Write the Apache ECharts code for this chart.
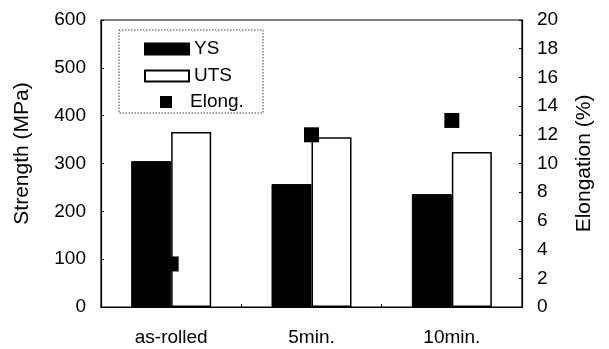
<!DOCTYPE html>
<html>
<head>
<meta charset="utf-8">
<script src="https://cdn.jsdelivr.net/npm/echarts@6/dist/echarts.min.js"></script>
<style>html,body{margin:0;padding:0;background:#fff;}#c{width:609px;height:349px;}</style>
</head>
<body>
<div id="c"></div>
<script>
var categories = ['as-rolled', '5min.', '10min.'];
var ysValues = [305, 257, 236];
var utsValues = [366, 355, 324];
var elongValues = [3, 12, 13];
var strengthTicks = [0, 100, 200, 300, 400, 500, 600];
var elongTicks = [0, 2, 4, 6, 8, 10, 12, 14, 16, 18, 20];

var FONT = "'Liberation Sans', Arial, Helvetica, sans-serif";
var chart = echarts.init(document.getElementById('c'), null, {renderer: 'canvas'});
var axisCommon = {
  axisLine: {show: true, lineStyle: {color: '#000', width: 1.2}},
  axisTick: {show: true, inside: true, length: 3, lineStyle: {color: '#000'}},
  splitLine: {show: false},
  nameLocation: 'middle',
  nameTextStyle: {color: '#000', fontSize: 21, fontFamily: FONT},
  axisLabel: {color: '#000', fontSize: 19, fontFamily: FONT, margin: 15}
};
chart.setOption({
  animation: false,
  backgroundColor: '#fff',
  grid: {left: 101, right: 87, top: 20, bottom: 42, show: true, borderColor: '#000', borderWidth: 1.2, backgroundColor: 'transparent'},
  graphic: [{
    type: 'rect', shape: {x: 119, y: 30, width: 144, height: 83},
    style: {fill: 'none', stroke: '#444', lineWidth: 1, lineDash: [1.5, 1.5]}, z: 50
  }],
  legend: [{
    data: [{name: 'YS', icon: 'rect'}, {name: 'UTS', icon: 'rect'}],
    orient: 'vertical', left: 139, top: 34, itemWidth: 44, itemHeight: 11, itemGap: 7,
    textStyle: {color: '#000', fontSize: 19, fontFamily: FONT, lineHeight: 20},
    selectedMode: false
  }, {
    data: [{name: 'Elong.', icon: 'rect'}],
    orient: 'vertical', left: 155, top: 87, itemWidth: 12, itemHeight: 12,
    itemStyle: {opacity: 1},
    textStyle: {color: '#000', fontSize: 19, fontFamily: FONT, lineHeight: 20, padding: [0, 0, 0, 13]},
    selectedMode: false
  }],
  xAxis: {
    type: 'category', data: categories, boundaryGap: true,
    axisLine: {show: true, lineStyle: {color: '#000', width: 1.2}},
    axisTick: {show: true, inside: true, length: 3, lineStyle: {color: '#000'}},
    axisLabel: {color: '#000', fontSize: 19, fontFamily: FONT, margin: 21}
  },
  yAxis: [
    Object.assign({}, axisCommon, {
      type: 'value', position: 'left', name: 'Strength (MPa)', nameGap: 68,
      min: strengthTicks[0], max: strengthTicks[strengthTicks.length - 1], interval: 100,
      nameTextStyle: Object.assign({}, axisCommon.nameTextStyle, {padding: [0, 0, 0, 20]})
    }),
    Object.assign({}, axisCommon, {
      type: 'value', position: 'right', name: 'Elongation (%)', nameGap: 52,
      min: elongTicks[0], max: elongTicks[elongTicks.length - 1], interval: 2
    })
  ],
  series: [
    {name: 'YS', type: 'bar', data: ysValues, barWidth: 40, barGap: '0%',
     itemStyle: {color: '#000', borderColor: '#000', borderWidth: 1}},
    {name: 'UTS', type: 'bar', data: utsValues, barWidth: 40, barGap: '0%',
     itemStyle: {color: '#fff', borderColor: '#000', borderWidth: 1.5}},
    {name: 'Elong.', type: 'scatter', yAxisIndex: 1, data: elongValues, symbol: 'rect', symbolSize: 15,
     itemStyle: {color: '#000', opacity: 1}, z: 10}
  ]
});
</script>
</body>
</html>
